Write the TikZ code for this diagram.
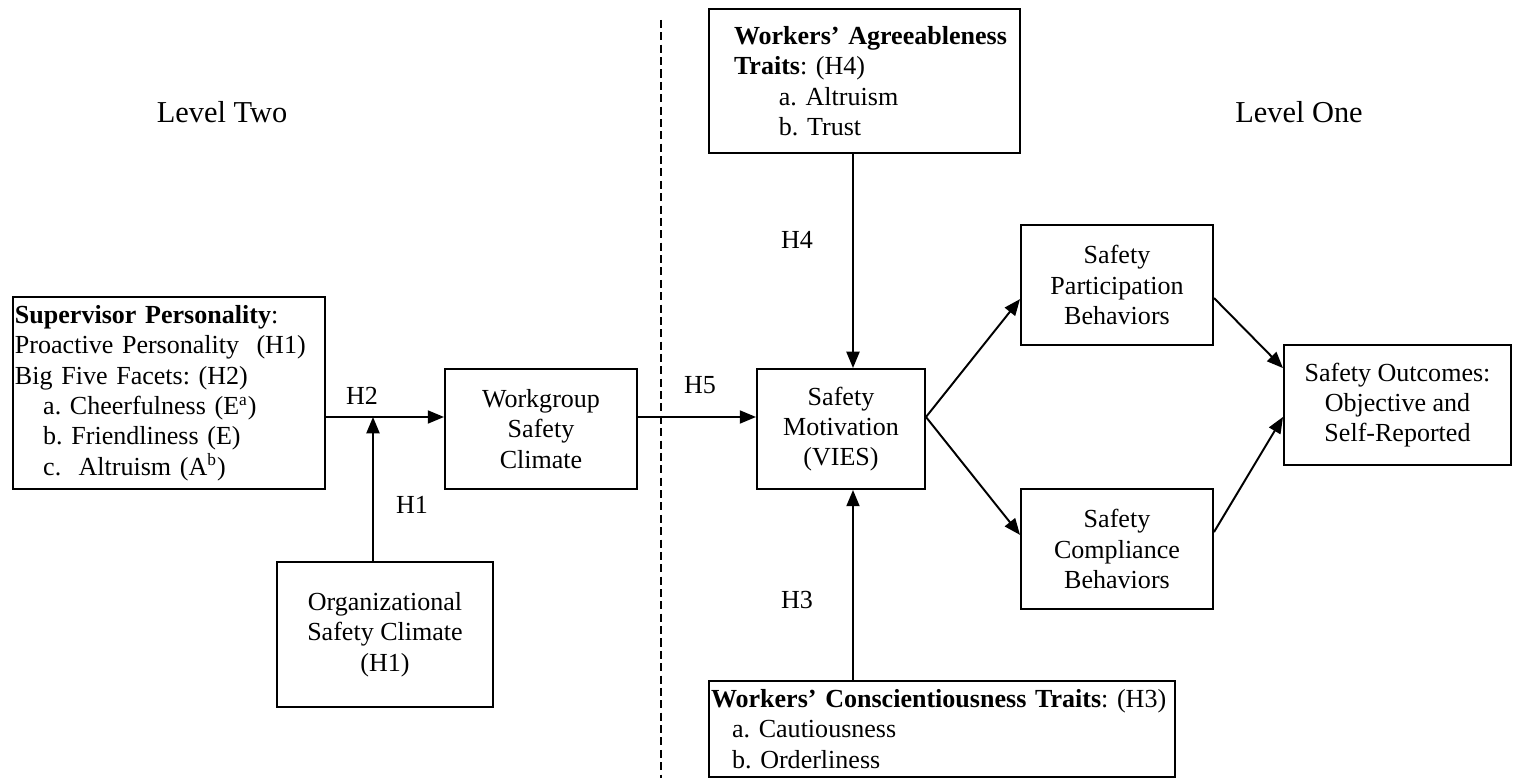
\documentclass[tikz,border=0pt]{standalone}
\usepackage{fontspec}
\setmainfont{Liberation Serif}
\usetikzlibrary{arrows.meta}
\newcommand\pxu{0.4608pt}
\newcommand\ind[1]{\hspace*{#1}}
\frenchspacing
\begin{document}
\begin{tikzpicture}[x=0.4608pt, y=-0.4608pt,
  every node/.style={font=\fontsize{12pt}{14pt}\selectfont},
  cbox/.style={draw, line width=0.9pt, align=center, inner sep=0pt},
  lbox/.style={draw, line width=0.9pt, align=left, inner sep=0pt},
  arr/.style={-{Triangle[length=7.5pt,width=6pt]}, line width=0.9pt},
  lbl/.style={inner sep=0pt},
  lvl/.style={inner sep=0pt, font=\fontsize{14pt}{16pt}\selectfont},
  divider/.style={line width=0.9pt, dash pattern=on 3.7pt off 2pt}
]
\useasboundingbox (0,0) rectangle (1513,778);

% level captions and the divider between them
\node[lvl] (lv2) at (222,112) {Level Two};
\node[lvl] (lv1) at (1299,112) {Level One};
\coordinate (dtop) at (661,20);
\coordinate (dbot) at (661,778);
\draw[divider] (dtop) -- (dbot);

% boxes
\node[lbox, minimum width=312*\pxu, minimum height=192*\pxu, text width=308*\pxu] (sup) at (169,393)
 {\textbf{Supervisor Personality}:\\
  Proactive Personality\ \ (H1)\\
  Big Five Facets: (H2)\\
  \ind{13pt}a. Cheerfulness (E\textsuperscript{a})\\
  \ind{13pt}b. Friendliness (E)\\
  \ind{13pt}c.\ \ Altruism (A\textsuperscript{b})};

\node[cbox, minimum width=216*\pxu, minimum height=145*\pxu] (org) at (385,634.5)
 {Organizational\\Safety Climate\\(H1)};

\node[cbox, minimum width=192*\pxu, minimum height=120*\pxu] (wg) at (541,429)
 {Workgroup\\Safety\\Climate};

\node[cbox, minimum width=168*\pxu, minimum height=120*\pxu] (mot) at (841,429)
 {Safety\\Motivation\\(VIES)};

\node[lbox, minimum width=311*\pxu, minimum height=144*\pxu, text width=307*\pxu] (agr) at (864.5,81)
 {\ind{10.6pt}\textbf{Workers’ Agreeableness}\\
  \ind{10.6pt}\textbf{Traits}: (H4)\\
  \ind{31.3pt}a. Altruism\\
  \ind{31.3pt}b. Trust};

\node[lbox, minimum width=466*\pxu, minimum height=96*\pxu, text width=462*\pxu] (con) at (942,729)
 {\textbf{Workers’ Conscientiousness Traits}: (H3)\\
  \ind{9.7pt}a. Cautiousness\\
  \ind{9.7pt}b. Orderliness};

\node[cbox, minimum width=192*\pxu, minimum height=120*\pxu] (par) at (1117,285)
 {Safety\\Participation\\Behaviors};

\node[cbox, minimum width=192*\pxu, minimum height=120*\pxu] (com) at (1117,549)
 {Safety\\Compliance\\Behaviors};

\node[cbox, minimum width=227*\pxu, minimum height=120*\pxu] (out) at (1397.5,405)
 {Safety Outcomes:\\Objective and\\Self-Reported};

% connectors
\coordinate (j) at (373,417);
\coordinate (vx) at (853,417);
\draw[arr] (sup.east |- j) -- (wg.west |- j);
\draw[arr] (org.north -| j) -- (j);
\draw[arr] (wg.east |- j) -- (mot.west |- j);
\draw[arr] (agr.south -| vx) -- (mot.north -| vx);
\draw[arr] (con.north -| vx) -- (mot.south -| vx);
\draw[arr] (mot.east |- j) -- ([yshift=-6.5pt]par.west);
\draw[arr] (mot.east |- j) -- ([yshift=6.5pt]com.west);
\draw[arr] ([yshift=-6pt]par.east) -- ([yshift=17pt]out.west);
\draw[arr] ([yshift=7.8pt]com.east) -- ([yshift=-5.5pt]out.west);

% hypothesis labels
\node[lbl] (h2) at (362,396) {H2};
\node[lbl] (h1) at (412,505) {H1};
\node[lbl] (h5) at (700,385) {H5};
\node[lbl] (h4) at (797,240) {H4};
\node[lbl] (h3) at (797,600) {H3};
\end{tikzpicture}
\end{document}
